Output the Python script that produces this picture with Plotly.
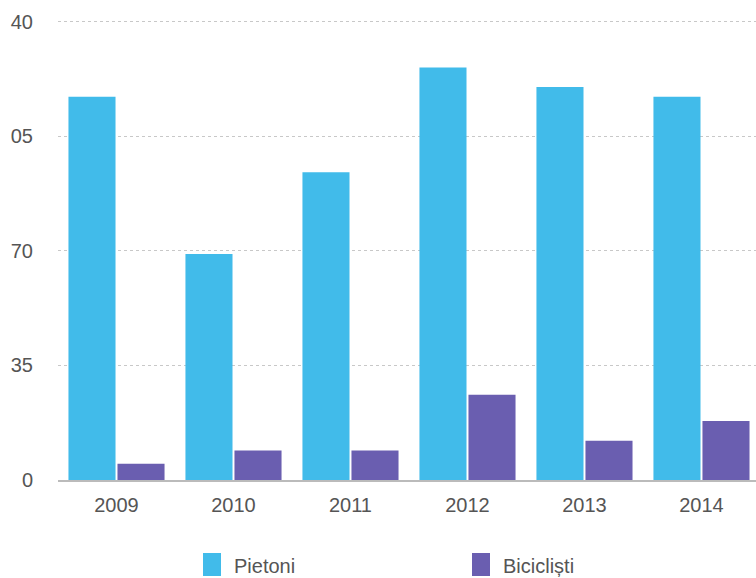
import plotly.graph_objects as go

years = ["2009", "2010", "2011", "2012", "2013", "2014"]
pietoni = [117, 69, 94, 126, 120, 117]
biciclisti = [5, 9, 9, 26, 12, 18]
series_names = ["Pietoni", "Bicicliști"]
y_tick_values = [0, 35, 70, 105, 140]
y_tick_labels = ["0", "35", "70", "05", "40"]

BLUE = "#41BBEA"
PURPLE = "#6A5EB0"
TEXT = "#555555"
FONT = "Liberation Sans, Arial, sans-serif"

fig = go.Figure()
fig.add_trace(go.Bar(x=years, y=pietoni, name=series_names[0],
                     marker=dict(color=BLUE, line=dict(width=0))))
fig.add_trace(go.Bar(x=years, y=biciclisti, name=series_names[1],
                     marker=dict(color=PURPLE, line=dict(width=0))))

# Hand-built legend below the plot
legend_items = [(series_names[0], BLUE, 203), (series_names[1], PURPLE, 472)]
for name, color, x0 in legend_items:
    fig.add_shape(type="rect", xref="paper", yref="paper",
                  x0=(x0 - 58) / 698, x1=(x0 + 18 - 58) / 698,
                  y0=-(576 - 480) / 465, y1=-(553 - 480) / 465,
                  fillcolor=color, line=dict(width=0))
    fig.add_annotation(xref="paper", yref="paper",
                       x=(x0 + 29 - 58) / 698, y=-(566 - 480) / 465,
                       text=name, showarrow=False, xanchor="left", yanchor="middle",
                       font=dict(family=FONT, size=20, color=TEXT))

fig.update_layout(
    width=756, height=578,
    margin=dict(l=58, r=0, t=15, b=98),
    paper_bgcolor="white", plot_bgcolor="white",
    barmode="group", bargap=0.162, bargroupgap=0.04,
    showlegend=False,
    font=dict(family=FONT, size=20, color=TEXT),
    xaxis=dict(
        type="category", range=[-0.5, 5.466],
        showgrid=False, showline=True, linecolor="#BBBBBB", linewidth=2,
        ticks="outside", ticklen=6, tickcolor="rgba(0,0,0,0)",
        tickfont=dict(family=FONT, size=20, color=TEXT),
    ),
    yaxis=dict(
        range=[0, 142], tickvals=y_tick_values, ticktext=y_tick_labels,
        showgrid=True, gridcolor="#C8C8C8", griddash="dot", gridwidth=1,
        zeroline=False, showline=False,
        ticks="outside", ticklen=20, tickcolor="rgba(0,0,0,0)",
        tickfont=dict(family=FONT, size=20, color=TEXT),
    ),
)

fig.write_html("out.html")
